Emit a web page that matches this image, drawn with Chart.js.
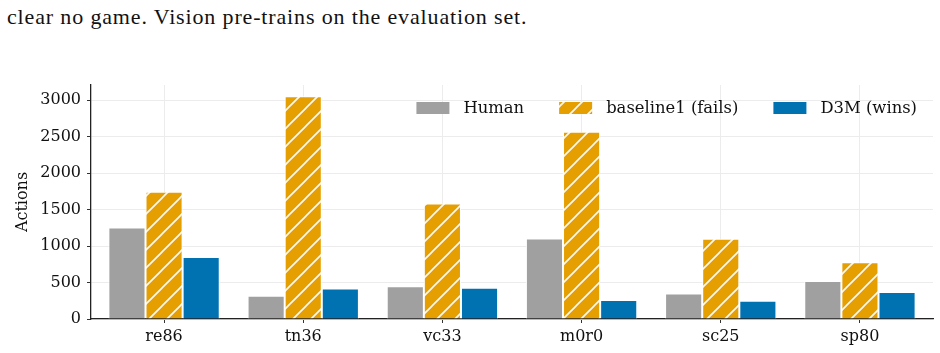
<!DOCTYPE html>
<html>
<head>
<meta charset="utf-8">
<script src="https://cdn.jsdelivr.net/npm/chart.js@4.4.1/dist/chart.umd.min.js"></script>
<style>
  html, body { margin: 0; padding: 0; background: #fff; }
  #wrap { position: relative; width: 940px; height: 353px; overflow: hidden; }
  #caption { position: absolute; left: 7px; top: 4px; font-family: "Liberation Serif", serif; font-size: 22px; letter-spacing: 0.85px; color: #111; white-space: nowrap; }
  canvas { position: absolute; left: 0; top: 0; }
</style>
</head>
<body>
<div id="wrap">
  <div id="caption">clear no game. Vision pre-trains on the evaluation set.</div>
  <canvas id="c" width="940" height="353"></canvas>
</div>
<script>
const categories = ["re86", "tn36", "vc33", "m0r0", "sc25", "sp80"];
const humanValues = [1255, 320, 450, 1105, 350, 520];
const baselineValues = [1745, 3055, 1585, 2570, 1100, 780];
const d3mValues = [850, 420, 430, 260, 250, 370];
const yTicks = [0, 500, 1000, 1500, 2000, 2500, 3000];
const seriesLabels = ["Human", "baseline1 (fails)", "D3M (wins)"];

const FONT = "DejaVu Serif";
const X_MARGIN = 0.025; // extra category-units of margin on each side of the x axis

function hatchPattern(bg) {
  const s = 18;
  const pc = document.createElement('canvas');
  pc.width = s; pc.height = s;
  const g = pc.getContext('2d');
  g.fillStyle = bg; g.fillRect(0, 0, s, s);
  g.strokeStyle = 'rgba(255,255,255,0.95)';
  g.lineWidth = 1.6;
  g.beginPath();
  g.moveTo(-2, s + 2); g.lineTo(s + 2, -2);
  g.moveTo(-2, 2); g.lineTo(2, -2);
  g.moveTo(s - 2, s + 2); g.lineTo(s + 2, s - 2);
  g.stroke();
  return document.getElementById('c').getContext('2d').createPattern(pc, 'repeat');
}

const orangePattern = hatchPattern('#E69F00');

const legendPlugin = {
  id: 'insideLegend',
  afterDraw(chart) {
    const ctx = chart.ctx;
    const area = chart.chartArea;
    ctx.save();
    ctx.font = `16.4px "${FONT}"`;
    ctx.textBaseline = 'middle';
    const sw = 33, sh = 12, gapText = 14, gapItem = 35;
    const items = chart.data.datasets.map(d => ({ label: d.label, fill: d.backgroundColor, w: ctx.measureText(d.label).width }));
    let total = 0;
    items.forEach((it, i) => { total += sw + gapText + it.w + (i < items.length - 1 ? gapItem : 0); });
    let x = area.right - 16 - total;
    const cy = area.top + 23;
    items.forEach(it => {
      ctx.fillStyle = it.fill;
      ctx.fillRect(x, cy - sh / 2, sw, sh);
      ctx.fillStyle = '#111';
      ctx.fillText(it.label, x + sw + gapText, cy + 1);
      x += sw + gapText + it.w + gapItem;
    });
    ctx.restore();
  }
};

new Chart(document.getElementById('c'), {
  type: 'bar',
  data: {
    labels: categories,
    datasets: [
      { label: seriesLabels[0], data: humanValues, backgroundColor: '#A0A0A0', borderColor: '#ffffff', borderWidth: 1 },
      { label: seriesLabels[1], data: baselineValues, backgroundColor: orangePattern, borderColor: '#ffffff', borderWidth: 1 },
      { label: seriesLabels[2], data: d3mValues, backgroundColor: '#0072B2', borderColor: '#ffffff', borderWidth: 1 }
    ]
  },
  options: {
    responsive: false,
    animation: false,
    devicePixelRatio: 1,
    layout: { padding: { top: 85, right: 7, left: 0, bottom: 0 } },
    datasets: { bar: { categoryPercentage: 0.8, barPercentage: 1.0 } },
    plugins: { legend: { display: false }, tooltip: { enabled: false } },
    scales: {
      x: {
        afterFit(scale) { scale.height = 34; },
        afterUpdate(scale) {
          const n = scale.max - scale.min + 1;
          scale._startValue = scale.min - 0.5 - X_MARGIN;
          scale._valueRange = n + 2 * X_MARGIN;
        },
        grid: { offset: false, color: '#ececec', lineWidth: 1, tickColor: '#333', tickLength: 4, drawTicks: true },
        border: { color: '#222', width: 1.3 },
        ticks: { color: '#111', font: { family: FONT, size: 16 }, padding: 4, maxRotation: 0 }
      },
      y: {
        min: 0, max: 3210,
        afterFit(scale) { scale.width = 91; },
        afterBuildTicks(scale) { scale.ticks = yTicks.map(v => ({ value: v })); },
        grid: { color: '#ececec', lineWidth: 1, tickColor: '#333', tickLength: 4 },
        border: { color: '#222', width: 1.3 },
        ticks: { color: '#111', font: { family: FONT, size: 16 }, padding: 6, callback: v => String(v) },
        title: { display: true, text: 'Actions', color: '#111', font: { family: FONT, size: 16 }, padding: { top: 13, bottom: 4 } }
      }
    }
  },
  plugins: [legendPlugin]
});
</script>
</body>
</html>
